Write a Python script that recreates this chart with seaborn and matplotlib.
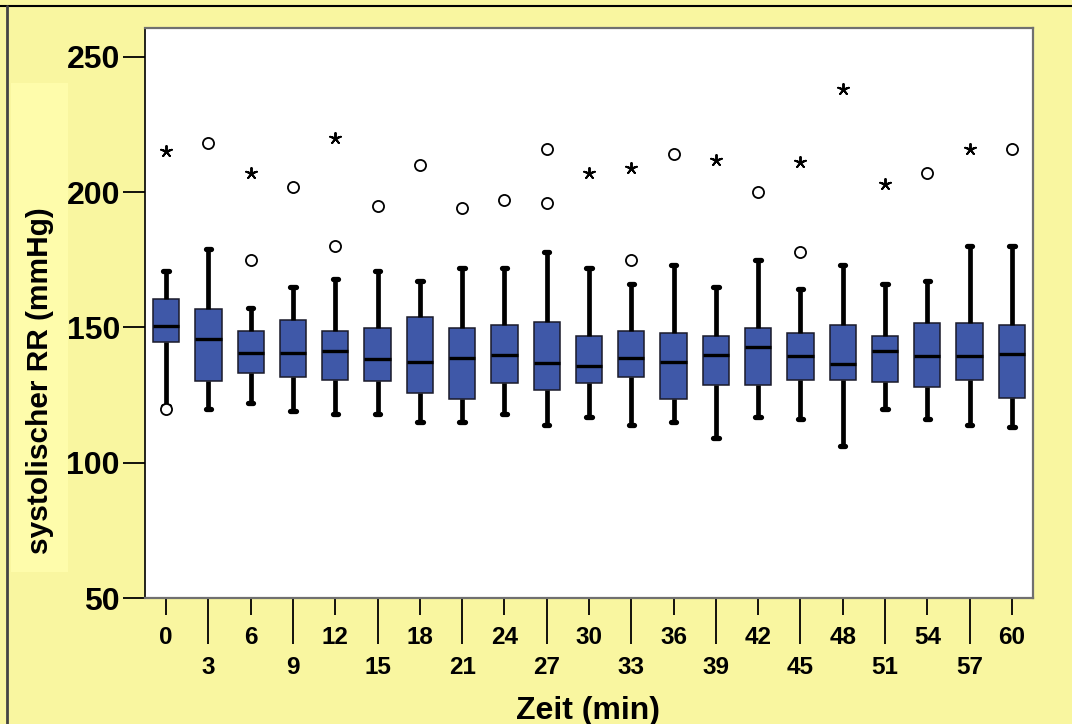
import numpy as np
import pandas as pd
import matplotlib
matplotlib.use("Agg")
import matplotlib.pyplot as plt
from matplotlib.patches import Rectangle
from matplotlib.lines import Line2D
from matplotlib.ticker import FixedLocator, FixedFormatter
import seaborn as sns

# ---------------- data ----------------
times = [0, 3, 6, 9, 12, 15, 18, 21, 24, 27, 30, 33, 36, 39, 42, 45, 48, 51, 54, 57, 60]
whisker_low = [121, 120, 122, 119, 118, 118, 115, 115, 118, 114, 117, 114, 115, 109, 117, 116, 106, 120, 116, 114, 113]
q1 = [144.7, 130, 133, 131.7, 130.7, 130, 125.7, 123.7, 129.6, 126.8, 129.6, 131.7, 123.7, 128.7, 128.8, 130.7, 130.7, 129.8, 127.8, 130.7, 123.9]
median = [150.5, 145.8, 140.7, 140.4, 141.4, 138.3, 137.3, 138.8, 139.8, 136.8, 135.7, 138.8, 137.3, 139.8, 142.9, 139.3, 136.3, 141.4, 139.3, 139.3, 140.3]
q3 = [160.6, 156.8, 148.8, 152.7, 148.8, 149.8, 153.7, 149.8, 150.7, 151.9, 146.8, 148.8, 147.8, 146.8, 149.8, 147.8, 150.7, 146.8, 151.7, 151.7, 150.7]
whisker_high = [171, 179, 157, 165, 168, 171, 167, 172, 172, 178, 172, 166, 173, 165, 175, 164, 173, 166, 167, 180, 180]

# outliers (circles) and extreme values (stars)
circle_times = [0, 3, 6, 9, 12, 15, 18, 21, 24, 27, 27, 33, 36, 42, 45, 54, 60]
circle_values = [120, 218, 175, 202, 180, 195, 210, 194, 197, 216, 196, 175, 214, 200, 178, 207, 216]
star_times = [0, 6, 12, 30, 33, 39, 45, 48, 51, 57]
star_values = [215, 207, 220, 207, 209, 212, 211, 238, 203, 216]

y_ticks = [50, 100, 150, 200, 250]
x_label = "Zeit (min)"
y_label = "systolischer RR (mmHg)"

# long-form table: five-number summary per time point
rows = []
for t, a, b, c, d, e in zip(times, whisker_low, q1, median, q3, whisker_high):
    for v in (a, b, c, d, e):
        rows.append({"Zeit": t, "RR": v})
df = pd.DataFrame(rows)
df_circ = pd.DataFrame({"Zeit": circle_times, "RR": circle_values})
df_star = pd.DataFrame({"Zeit": star_times, "RR": star_values})

# ---------------- style ----------------
sns.set_style("ticks")
plt.rcParams["font.family"] = ["Liberation Sans", "DejaVu Sans"]
plt.rcParams["font.weight"] = "bold"
plt.rcParams["text.color"] = "black"
plt.rcParams["axes.labelcolor"] = "black"
plt.rcParams["xtick.color"] = "black"
plt.rcParams["ytick.color"] = "black"

BG = "#F9F6A0"
BOX = "#3F58A8"

fig = plt.figure(figsize=(10.72, 7.24), dpi=100, facecolor=BG)
W, H = 1072, 724
ax = fig.add_axes([145 / W, 1 - 598 / H, (1033 - 145) / W, (598 - 28) / H])
ax.set_facecolor("white")

# lighter panel behind the y label
fig.patches.append(Rectangle((11 / W, 1 - 572 / H), (68 - 11) / W, (572 - 83) / H,
                             transform=fig.transFigure, facecolor="#FEFCAB",
                             edgecolor="none", zorder=0))
# figure frame lines (top and left)
fig.lines.append(Line2D([0, 1], [1 - 6 / H, 1 - 6 / H], transform=fig.transFigure,
                        color="black", lw=1.5))
fig.lines.append(Line2D([7 / W, 7 / W], [0, 1 - 6 / H], transform=fig.transFigure,
                        color="#444444", lw=2))

sns.boxplot(data=df, x="Zeit", y="RR", order=times, ax=ax, whis=(0, 100),
            width=0.62, color=BOX, saturation=1, fliersize=0,
            boxprops=dict(facecolor=BOX, edgecolor="#1a1a2a", linewidth=1.1),
            medianprops=dict(color="black", linewidth=2.4),
            whiskerprops=dict(color="black", linewidth=3.4),
            capprops=dict(color="black", linewidth=3.8),
            capwidths=0.13)

sns.stripplot(data=df_circ, x="Zeit", y="RR", order=times, ax=ax, jitter=False,
              marker="o", size=8, color="white", edgecolor="black", linewidth=1.3,
              zorder=5)
sns.stripplot(data=df_star, x="Zeit", y="RR", order=times, ax=ax, jitter=False,
              marker=(5, 2, 0), size=8, color="black", linewidth=1.4, zorder=5)

ax.set_xlim(-0.5, len(times) - 0.5)
ax.set_ylim(50, 260.6)
ax.set_yticks(y_ticks)
ax.set_yticklabels([str(v) for v in y_ticks])
ax.tick_params(axis="y", direction="out", length=16, width=1.3, pad=2,
               labelsize=23, colors="black")

pos = np.arange(len(times))
ax.xaxis.set_major_locator(FixedLocator(pos[::2]))
ax.xaxis.set_major_formatter(FixedFormatter([str(t) for t in times[::2]]))
ax.xaxis.set_minor_locator(FixedLocator(pos[1::2]))
ax.xaxis.set_minor_formatter(FixedFormatter([str(t) for t in times[1::2]]))
ax.tick_params(axis="x", which="major", direction="out", length=12, width=1.3,
               pad=8, labelsize=17.5, colors="black")
ax.tick_params(axis="x", which="minor", direction="out", length=33, width=1.3,
               pad=9, labelsize=17.5, colors="black")
for lab in ax.get_xticklabels(which="both") + ax.get_yticklabels():
    lab.set_fontweight("bold")

ax.set_xlabel("")
ax.set_ylabel("")
for side in ["top", "right", "bottom"]:
    ax.spines[side].set_visible(True)
    ax.spines[side].set_color("#707070")
    ax.spines[side].set_linewidth(1.6)
ax.spines["left"].set_color("black")
ax.spines["left"].set_linewidth(1.2)

fig.text(588 / W, 1 - 711 / H, x_label, ha="center", va="center",
         fontsize=23, fontweight="bold", color="black")
fig.text(40 / W, 1 - 381 / H, y_label, ha="center", va="center",
         rotation=90, fontsize=21.5, fontweight="bold", color="black")

fig.savefig("out.png", dpi=100, facecolor=BG)
